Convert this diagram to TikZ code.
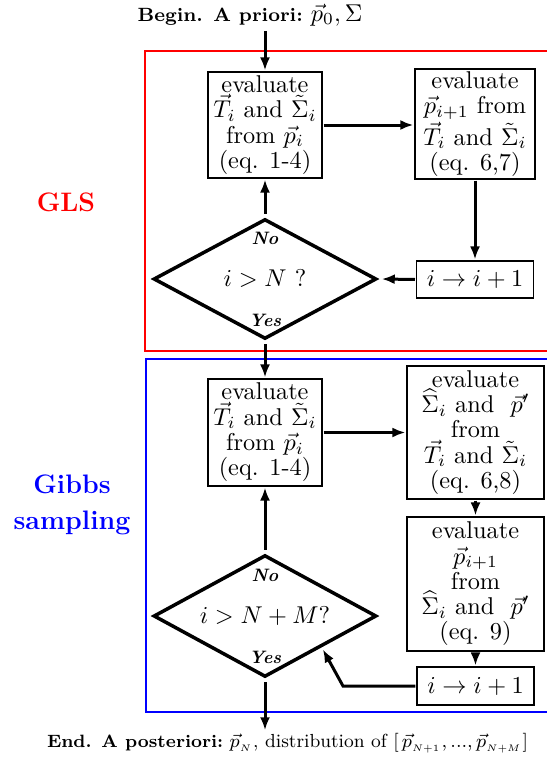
\RequirePackage{fix-cm}
\documentclass[tikz,border=0pt]{standalone}
\usetikzlibrary{arrows.meta,shapes.geometric}
\begin{document}
\begin{tikzpicture}[x=1pt,y=-1pt,
	box/.style={draw,line width=1.3pt,align=center,inner sep=0pt,scale=2.43,font=\fontsize{10}{10.4}\selectfont},
	test/.style={draw,diamond,line width=3.5pt,inner sep=0pt,aspect=1.8,scale=2.43,font=\fontsize{10}{10.4}\selectfont},
	arr/.style={line width=3pt,-{Latex[length=13pt,width=10pt]}},
	yn/.style={scale=2.43,inner sep=0pt,font=\fontsize{7.4}{8}\selectfont\bfseries\itshape},
	lbl/.style={scale=2.43,inner sep=1pt,font=\fontsize{10}{12}\selectfont},
	part/.style={scale=2.43,align=center,font=\fontsize{11}{14.8}\selectfont\bfseries}]
	\useasboundingbox (0,0) rectangle (546,760);
	\draw[red,line width=1.5pt] (550,51) -- (145,51) -- (145,351) -- (550,351);
	\draw[blue,line width=1.5pt] (550,359) -- (146,359) -- (146,712) -- (550,712);
	\node[part,text=red] (gls) at (66,202) {GLS};
	\node[part,text=blue] (gibbs) at (72,505) {Gibbs\\sampling};
	\node[lbl] (title) at (250,15) {{\fontsize{7.9}{9}\selectfont\bfseries Begin. A priori:}\ $\vec{p}_0,\Sigma$};
	\node[box,minimum width=46.9pt,minimum height=43.6pt] (g1) at (265,125) {evaluate\\$\vec{T}_i$ and $\tilde{\Sigma}_i$\\from $\vec{p}_i$\\(eq. 1-4)};
	\node[box,minimum width=49.4pt,minimum height=45.3pt] (g2) at (475,124) {evaluate\\$\vec{p}_{i+1}$ from\\$\vec{T}_i$ and $\tilde{\Sigma}_i$\\(eq. 6,7)};
	\node[box,minimum width=48.1pt,minimum height=15.2pt] (g3) at (475,279.5) {$i\rightarrow i+1$};
	\node[test,minimum width=92.6pt,minimum height=50.2pt] (d1) at (265,279) {$i>N\ ?$};
	\node[yn] (no1) at (265,238) {No};
	\node[yn] (yes1) at (265,320) {Yes};
	\node[box,minimum width=46.9pt,minimum height=44pt] (b4) at (265,432.5) {evaluate\\$\vec{T}_i$ and $\tilde{\Sigma}_i$\\from $\vec{p}_i$\\(eq. 1-4)};
	\node[box,minimum width=56.4pt,minimum height=54.7pt] (b5) at (475.5,432.5) {evaluate\\$\widehat{\Sigma}_i$ and\ \ $\vec{p}'$\\from\\$\vec{T}_i$ and $\tilde{\Sigma}_i$\\(eq. 6,8)};
	\node[box,minimum width=56.4pt,minimum height=55.1pt] (b6) at (475.5,584) {evaluate\\$\vec{p}_{i+1}$\\from\\$\widehat{\Sigma}_i$ and\ \ $\vec{p}'$\\(eq. 9)};
	\node[box,minimum width=48.1pt,minimum height=15.6pt] (b7) at (475.5,686) {$i\rightarrow i+1$};
	\node[test,minimum width=92.6pt,minimum height=51pt] (d2) at (265,616) {$i>N+M?$};
	\node[yn] (no2) at (265,575) {No};
	\node[yn] (yes2) at (265,657) {Yes};
	\node[lbl,scale=0.885,font=\fontsize{8.8}{11}\selectfont] (fin) at (287.5,743) {{\fontsize{8.3}{9}\selectfont\bfseries End. A posteriori:}\ $\vec{p}_{_N}$, distribution of [\,$\vec{p}_{_{N+1}},...,\vec{p}_{_{N+M}}$]};
	\coordinate (bend) at (343,686);
	\draw[arr,shorten <=2pt] (title.south -| g1.north) -- (g1.north);
	\draw[arr] (g1.east) -- (g1.east -| g2.west);
	\draw[arr] (g2.south) -- (g3.north);
	\draw[arr] (g3.west) -- (d1.east);
	\draw[arr] (d1.north) -- (g1.south);
	\draw[arr] (d1.south) -- (b4.north);
	\draw[arr] (b4.east) -- (b5.west);
	\draw[arr] (b5.south) -- (b6.north);
	\draw[arr] (b6.south) -- (b7.north);
	\draw[arr] (b7.west) -- (bend) -- (d2.-30);
	\draw[arr] (d2.north) -- (b4.south);
	\draw[arr] (d2.south) -- (d2.south |- fin.north);
\end{tikzpicture}
\end{document}
